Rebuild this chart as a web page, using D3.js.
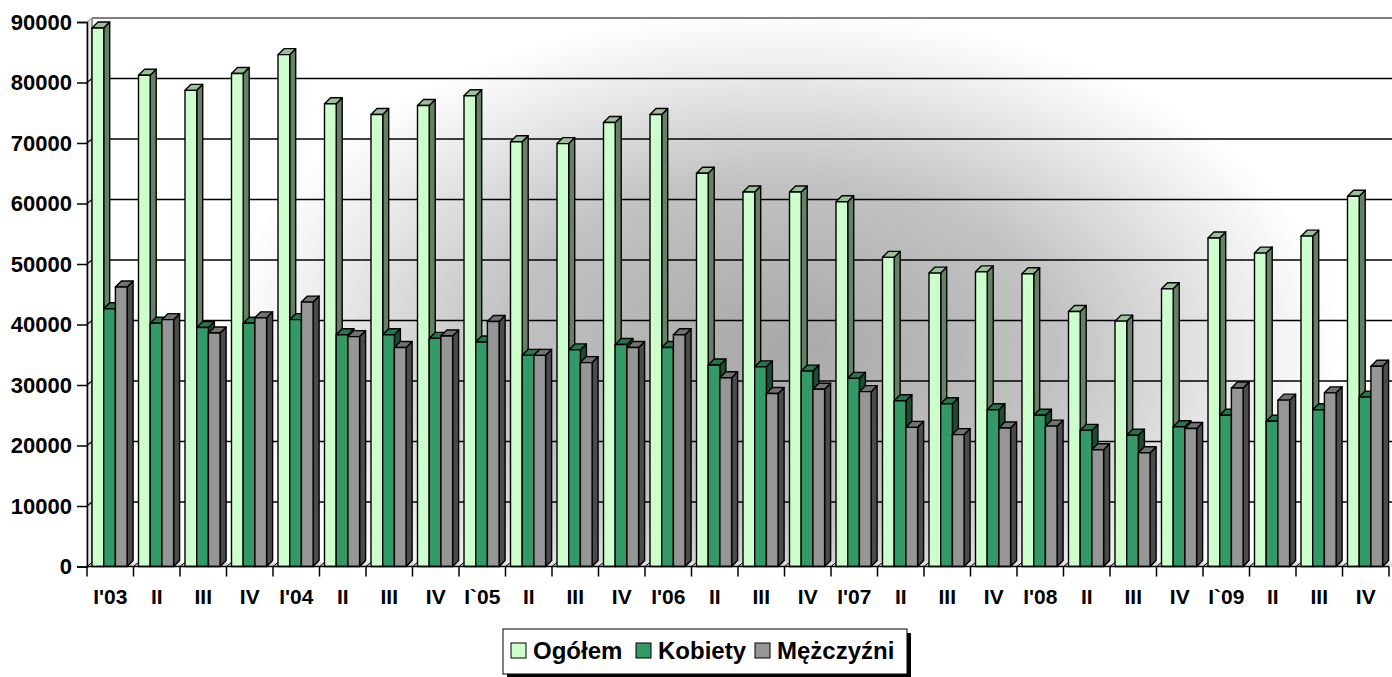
<!DOCTYPE html>
<html>
<head>
<meta charset="utf-8">
<script src="https://cdn.jsdelivr.net/npm/d3@7"></script>
<style>
  body { margin: 0; background: white; }
  svg { display: block; font-family: "Liberation Sans", Arial, sans-serif; font-weight: bold; }
</style>
</head>
<body>
<div id="visualization"></div>
<script>
// quarters 2003 - 2009
let quarters = ["I'03","II","III","IV","I'04","II","III","IV","I`05","II","III","IV",
  "I'06","II","III","IV","I'07","II","III","IV","I'08","II","III","IV","I`09","II","III","IV"];

let ogolem = [89000, 81200, 78700, 81500, 84600, 76500, 74700, 76200, 77800, 70200, 69900, 73400,
  74700, 65000, 61900, 61900, 60300, 51100, 48500, 48700, 48400, 42150, 40550, 45900, 54300, 51800, 54600, 61200];
let kobiety = [42600, 40200, 39500, 40200, 40800, 38300, 38300, 37700, 37100, 34900, 35800, 36700,
  36200, 33300, 33000, 32300, 31100, 27400, 26900, 25900, 25000, 22500, 21700, 23100, 25000, 24000, 25900, 28000];
let mezczyzni = [46200, 40800, 38600, 41100, 43700, 38000, 36200, 38100, 40500, 34900, 33700, 36200,
  38300, 31200, 28600, 29300, 28900, 23000, 21800, 22900, 23200, 19300, 18800, 22800, 29500, 27500, 28700, 33100];

let seriesNames = ["Ogółem", "Kobiety", "Mężczyźni"];
let yTicks = [0, 10000, 20000, 30000, 40000, 50000, 60000, 70000, 80000, 90000];

let w = 1392, h = 677;
let left = 87, right = 1389;
let wallDx = 5, wallDy = -4;   // depth of the walls
let barDx = 6, barDy = -6;     // depth of the bars

// colors: front, top, side
let colors = [
  {front: "#CCFFCC", top: "#99C299", side: "#668066"},
  {front: "#339966", top: "#26754D", side: "#1A4D33"},
  {front: "#969696", top: "#727272", side: "#4B4B4B"}
];

let viz = d3.select("#visualization")
  .append("svg")
  .attr("width", w)
  .attr("height", h);

let xScale = d3.scaleBand().domain(d3.range(quarters.length)).range([left, right]);
let yScale = d3.scaleLinear().domain([0, 90000]).range([566.5, 22]);

// background gradient of the back wall
let defs = viz.append("defs");
let grad = defs.append("radialGradient")
  .attr("id", "wallGrad")
  .attr("gradientUnits", "userSpaceOnUse")
  .attr("cx", 0).attr("cy", 0).attr("r", 1)
  .attr("gradientTransform", "translate(780,350) scale(560,340)");
grad.append("stop").attr("offset", 0).attr("stop-color", "#A8A8A8");
grad.append("stop").attr("offset", 0.5).attr("stop-color", "#C2C2C2");
grad.append("stop").attr("offset", 0.82).attr("stop-color", "#EBEBEB");
grad.append("stop").attr("offset", 1).attr("stop-color", "#FFFFFF");

let wallTop = yScale(90000) + wallDy;
let wallBottom = yScale(0) + wallDy;

viz.append("rect")
  .attr("x", left + wallDx)
  .attr("y", wallTop)
  .attr("width", w - left - wallDx)
  .attr("height", wallBottom - wallTop)
  .attr("fill", "url(#wallGrad)");

// left side wall
viz.append("path")
  .attr("d", "M" + left + "," + yScale(0) + "L" + left + "," + yScale(90000) +
    "L" + (left + wallDx) + "," + wallTop + "L" + (left + wallDx) + "," + wallBottom + "Z")
  .attr("fill", "#E6E6E6")
  .attr("stroke", "#808080")
  .attr("stroke-width", 1);

// floor
viz.append("path")
  .attr("d", "M" + left + "," + yScale(0) + "L" + (left + wallDx) + "," + wallBottom +
    "L" + w + "," + wallBottom + "L" + w + "," + yScale(0) + "Z")
  .attr("fill", "#DDDDDD");

// gridlines on back wall + left wall
let grid = viz.append("g");
grid.selectAll(".gback").data(yTicks.slice(1, 9)).enter()
  .append("line")
  .attr("x1", left + wallDx).attr("x2", w)
  .attr("y1", d => yScale(d) + wallDy).attr("y2", d => yScale(d) + wallDy)
  .attr("stroke", "black").attr("stroke-width", 1.4);
grid.selectAll(".gside").data(yTicks.slice(1, 9)).enter()
  .append("line")
  .attr("x1", left).attr("x2", left + wallDx)
  .attr("y1", d => yScale(d)).attr("y2", d => yScale(d) + wallDy)
  .attr("stroke", "black").attr("stroke-width", 1.2);

// top border of the wall
viz.append("line")
  .attr("x1", left + wallDx).attr("x2", w)
  .attr("y1", wallTop).attr("y2", wallTop)
  .attr("stroke", "#808080").attr("stroke-width", 2);
viz.append("line")
  .attr("x1", left + wallDx).attr("x2", left + wallDx)
  .attr("y1", wallTop).attr("y2", wallBottom)
  .attr("stroke", "#808080").attr("stroke-width", 1.2);

// little floor marks at category edges
viz.selectAll(".floormark").data(d3.range(quarters.length)).enter()
  .append("line")
  .attr("x1", d => xScale(d)).attr("x2", d => xScale(d) + wallDx)
  .attr("y1", yScale(0)).attr("y2", wallBottom)
  .attr("stroke", "black").attr("stroke-width", 1);

// bars
let series = [ogolem, kobiety, mezczyzni];
let barW = 11.7, barOffset = 5;
let bars = viz.append("g");

quarters.forEach(function(q, i){
  series.forEach(function(values, s){
    let x0 = xScale(i) + barOffset + s * barW;
    let x1 = x0 + barW;
    let yt = yScale(values[i]);
    let yb = yScale(0);
    let c = colors[s];
    let g = bars.append("g").attr("stroke", "black").attr("stroke-width", 1.4).attr("stroke-linejoin", "round");
    // side face
    g.append("path")
      .attr("d", "M" + x1 + "," + yb + "L" + x1 + "," + yt + "L" + (x1 + barDx) + "," + (yt + barDy) +
        "L" + (x1 + barDx) + "," + (yb + barDy) + "Z")
      .attr("fill", c.side);
    // top face
    g.append("path")
      .attr("d", "M" + x0 + "," + yt + "L" + (x0 + barDx) + "," + (yt + barDy) + "L" + (x1 + barDx) + "," + (yt + barDy) +
        "L" + x1 + "," + yt + "Z")
      .attr("fill", c.top);
    // front face
    g.append("rect")
      .attr("x", x0).attr("y", yt)
      .attr("width", barW).attr("height", yb - yt)
      .attr("fill", c.front);
  });
});

// y axis
let yAxis = d3.axisLeft(yScale).tickValues(yTicks).tickSize(10).tickPadding(5).tickFormat(d3.format("d"));
let yAxisGroup = viz.append("g").attr("transform", "translate(" + left + ",0)").call(yAxis);
yAxisGroup.select(".domain").attr("stroke", "black").attr("stroke-width", 1.5);
yAxisGroup.selectAll(".tick line").attr("stroke", "black").attr("stroke-width", 1.5);
yAxisGroup.selectAll("text")
  .attr("fill", "black")
  .style("font-size", "22px")
  .style("font-weight", "bold")
  .style("font-family", "'Liberation Sans', Arial, sans-serif");

// x axis: ticks between categories, labels centered
let xAxisGroup = viz.append("g");
xAxisGroup.append("line")
  .attr("x1", left).attr("x2", right)
  .attr("y1", yScale(0)).attr("y2", yScale(0))
  .attr("stroke", "black").attr("stroke-width", 1.5);
xAxisGroup.selectAll(".xtick").data(d3.range(quarters.length + 1)).enter()
  .append("line")
  .attr("x1", d => left + d * xScale.bandwidth()).attr("x2", d => left + d * xScale.bandwidth())
  .attr("y1", yScale(0)).attr("y2", yScale(0) + 10)
  .attr("stroke", "black").attr("stroke-width", 1.5);
xAxisGroup.selectAll(".xlabel").data(quarters).enter()
  .append("text")
  .attr("x", (d, i) => xScale(i) + xScale.bandwidth() / 2)
  .attr("y", 604)
  .attr("text-anchor", "middle")
  .style("font-size", "21px")
  .text(d => d);

// legend
let legend = viz.append("g");
legend.append("rect")
  .attr("x", 507).attr("y", 633).attr("width", 404).attr("height", 45)
  .attr("fill", "black");
legend.append("rect")
  .attr("x", 503).attr("y", 629).attr("width", 404).attr("height", 45)
  .attr("fill", "white").attr("stroke", "black").attr("stroke-width", 1);

let legendX = [511, 636, 755];
let legendItems = legend.selectAll(".item").data(seriesNames).enter()
  .append("g");
legendItems.append("rect")
  .attr("x", (d, i) => legendX[i]).attr("y", 643)
  .attr("width", 15).attr("height", 15)
  .attr("fill", (d, i) => colors[i].front)
  .attr("stroke", "black").attr("stroke-width", 1);
legendItems.append("text")
  .attr("x", (d, i) => legendX[i] + 22)
  .attr("y", 659)
  .style("font-size", "24px")
  .text(d => d);
</script>
</body>
</html>
